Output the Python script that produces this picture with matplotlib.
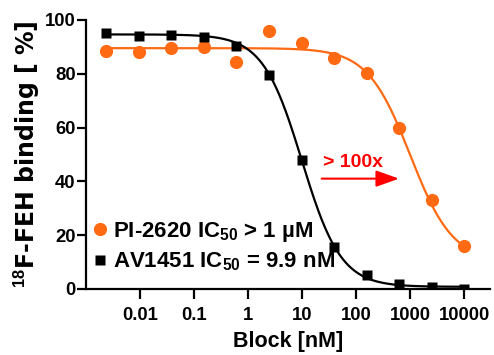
import numpy as np
import matplotlib
matplotlib.use("Agg")
from matplotlib import pyplot as plt

plt.rcParams['font.family'] = ['Liberation Sans', 'DejaVu Sans']
plt.rcParams['font.weight'] = 'bold'
plt.rcParams['mathtext.fontset'] = 'custom'
plt.rcParams['mathtext.rm'] = 'Liberation Sans:bold'
plt.rcParams['mathtext.bf'] = 'Liberation Sans:bold'
plt.rcParams['mathtext.default'] = 'rm'

# Block concentrations (nM), 1:4 dilution series
conc = [0.00238, 0.00954, 0.0381, 0.153, 0.610, 2.44, 9.77, 39.1, 156, 625, 2500, 10000]

# Binding in % for each blocker
pi2620 = [88.6, 87.9, 89.6, 90.0, 84.4, 96.0, 91.3, 86.0, 80.4, 60.0, 33.1, 16.0]
av1451 = [95.0, 94.0, 94.4, 93.6, 90.4, 79.4, 48.0, 15.5, 5.3, 1.9, 0.6, 0.1]

# Fitted 4-parameter logistic: top, bottom, IC50 (nM), hill slope
fit_pi2620 = (89.5, 10.0, 1000.0, 1.1)
fit_av1451 = (94.6, 0.8, 9.9, 1.2)

orange = '#FF6A13'


def logistic(x, top, bottom, ic50, hill):
    return bottom + (top - bottom) / (1 + (x / ic50) ** hill)


fig = plt.figure(figsize=(4.94, 3.55), dpi=100)
ax = fig.add_axes([0.174, 0.186, 0.818, 0.758])

xs = np.logspace(np.log10(conc[0]), np.log10(conc[-1]), 300)
ax.plot(xs, logistic(xs, *fit_pi2620), color=orange, lw=1.6, zorder=2)
ax.plot(xs, logistic(xs, *fit_av1451), color='black', lw=1.6, zorder=2)

ax.plot(conc, pi2620, 'o', color=orange, ms=9.5, mec='none', zorder=3,
        label=r'PI-2620 IC$_{50}$ > 1 µM')
ax.plot(conc, av1451, 's', color='black', ms=6.5, mec='none', zorder=3,
        label=r'AV1451 IC$_{50}$ = 9.9 nM')

# shift between the two curves
ax.annotate('', xy=(620, 41.0), xytext=(23, 41.0),
            arrowprops=dict(arrowstyle='-|>,head_length=1.4,head_width=0.5',
                            color='#FF0000', lw=1.5, shrinkA=0, shrinkB=0))
ax.text(24, 44, '> 100x', color='#FF0000', fontsize=14, fontweight='bold',
        ha='left', va='bottom')

ax.set_xscale('log')
ax.set_xlim(0.001, 30000)
ax.set_ylim(0, 100)
ax.set_xticks([0.01, 0.1, 1, 10, 100, 1000, 10000])
ax.set_xticklabels(['0.01', '0.1', '1', '10', '100', '1000', '10000'])
ax.minorticks_off()
ax.set_yticks([0, 20, 40, 60, 80, 100])

for side in ['top', 'right']:
    ax.spines[side].set_visible(False)
for side in ['left', 'bottom']:
    ax.spines[side].set_linewidth(1.6)
ax.tick_params(axis='both', width=1.6, labelsize=13.3)
ax.tick_params(axis='y', length=6.5, pad=1)
ax.tick_params(axis='x', length=7.5, pad=5.5)
for lbl in ax.get_xticklabels() + ax.get_yticklabels():
    lbl.set_fontweight('bold')

ax.set_xlabel('Block [nM]', fontsize=15.5, fontweight='bold', labelpad=5)
ax.set_ylabel(r'$^{18}$F-FEH binding [ %]', fontsize=17, fontweight='bold',
              family=['DejaVu Sans'], labelpad=2)

ax.legend(loc='lower left', bbox_to_anchor=(-0.035, 0.0), frameon=False,
          prop={'size': 16, 'weight': 'bold'}, handletextpad=0.05,
          handlelength=1.1, labelspacing=0.3, borderaxespad=0.3)

fig.savefig('out.png', dpi=100)
